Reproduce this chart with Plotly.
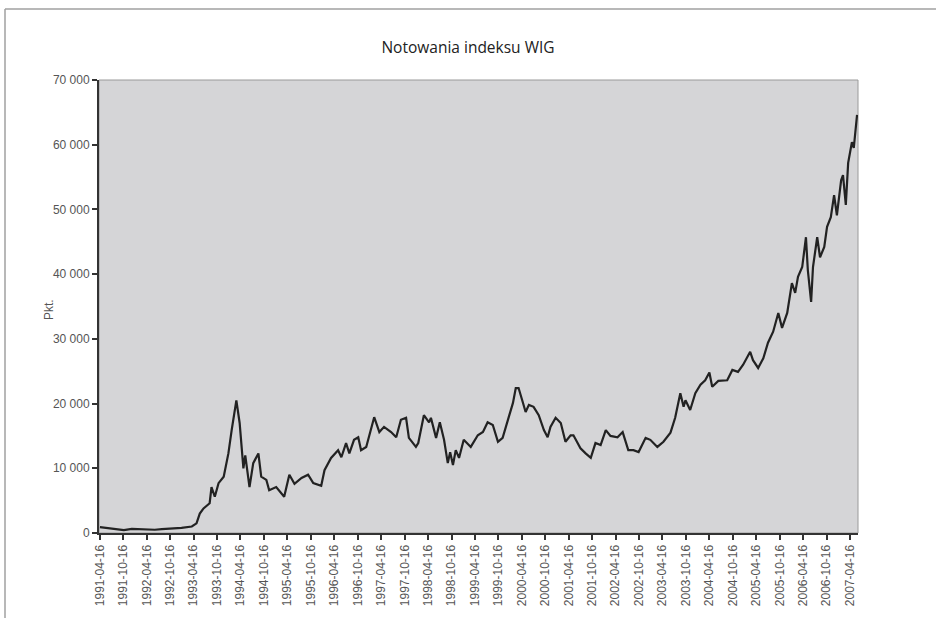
import plotly.graph_objects as go
import pandas as pd

# --- data (decimal year, index points) ---
years = [
    1991.29, 1991.44, 1991.65, 1991.80, 1991.97, 1992.29, 1992.46, 1992.61, 1992.82, 1993.03,
    1993.25, 1993.35, 1993.42, 1993.50, 1993.63, 1993.67, 1993.74, 1993.82, 1993.93, 1994.03,
    1994.10, 1994.14, 1994.20, 1994.27, 1994.31, 1994.35, 1994.39, 1994.48, 1994.56, 1994.67,
    1994.73, 1994.84, 1994.90, 1995.05, 1995.22, 1995.33, 1995.44, 1995.59, 1995.73, 1995.84,
    1996.01, 1996.08, 1996.22, 1996.37, 1996.44, 1996.54, 1996.61, 1996.71, 1996.80, 1996.86,
    1996.97, 1997.14, 1997.25, 1997.35, 1997.50, 1997.61, 1997.71, 1997.82, 1997.88, 1998.03,
    1998.08, 1998.20, 1998.31, 1998.35, 1998.46, 1998.54, 1998.63, 1998.71, 1998.76, 1998.82,
    1998.88, 1998.95, 1999.05, 1999.20, 1999.35, 1999.46, 1999.56, 1999.67, 1999.78, 1999.88,
    2000.01, 2000.10, 2000.16, 2000.22, 2000.31, 2000.37, 2000.44, 2000.54, 2000.65, 2000.76,
    2000.84, 2000.90, 2001.01, 2001.12, 2001.22, 2001.33, 2001.39, 2001.54, 2001.65, 2001.76,
    2001.86, 2001.97, 2002.08, 2002.18, 2002.33, 2002.44, 2002.56, 2002.67, 2002.78, 2002.93,
    2003.03, 2003.18, 2003.31, 2003.46, 2003.56, 2003.67, 2003.74, 2003.78, 2003.88, 2003.99,
    2004.10, 2004.20, 2004.29, 2004.35, 2004.48, 2004.67, 2004.78, 2004.90, 2005.01, 2005.16,
    2005.22, 2005.33, 2005.44, 2005.54, 2005.65, 2005.76, 2005.84, 2005.95, 2006.05, 2006.12,
    2006.18, 2006.27, 2006.35, 2006.39, 2006.46, 2006.50, 2006.59, 2006.65, 2006.74, 2006.80,
    2006.88, 2006.95, 2007.01, 2007.10, 2007.14, 2007.20, 2007.25, 2007.33, 2007.37, 2007.44,
]
wig = [
    900, 800, 650, 450, 650, 600, 500, 600, 650, 800,
    1000, 1500, 3000, 3800, 4600, 7100, 5600, 7700, 8700, 12300,
    15900, 17900, 20500, 17000, 13300, 10000, 12000, 7100, 10800, 12300,
    8700, 8200, 6600, 7100, 5600, 9000, 7600, 8500, 9000, 7700,
    7300, 9700, 11600, 12800, 11700, 13900, 12300, 14400, 14800, 12800,
    13300, 17900, 15600, 16400, 15600, 14800, 17500, 17800, 14700, 13300,
    13900, 18200, 17100, 17800, 14700, 17100, 14400, 10800, 12500, 10500,
    12800, 11600, 14400, 13300, 15100, 15600, 17100, 16700, 14100, 14700,
    17900, 20100, 22400, 22400, 20200, 18700, 19800, 19500, 18200, 15900,
    14800, 16400, 17800, 17000, 14100, 15100, 15100, 13100, 12300, 11600,
    13900, 13600, 15900, 15000, 14800, 15600, 12800, 12800, 12500, 14700,
    14400, 13300, 14100, 15500, 17800, 21600, 19500, 20500, 19000, 21600,
    22900, 23600, 24800, 22600, 23500, 23600, 25200, 24900, 26000, 28000,
    26700, 25500, 27000, 29400, 31100, 34000, 31700, 34000, 38600, 37100,
    39600, 41100, 45700, 40600, 35700, 41100, 45700, 42600, 44200, 47300,
    48800, 52200, 49100, 54500, 55300, 50700, 57200, 60400, 59500, 64600,
]
tick_labels = [
    "1991-04-16", "1991-10-16", "1992-04-16", "1992-10-16", "1993-04-16", "1993-10-16",
    "1994-04-16", "1994-10-16", "1995-04-16", "1995-10-16", "1996-04-16", "1996-10-16",
    "1997-04-16", "1997-10-16", "1998-04-16", "1998-10-16", "1999-04-16", "1999-10-16",
    "2000-04-16", "2000-10-16", "2001-04-16", "2001-10-16", "2002-04-16", "2002-10-16",
    "2003-04-16", "2003-10-16", "2004-04-16", "2004-10-16", "2005-04-16", "2005-10-16",
    "2006-04-16", "2006-10-16", "2007-04-16",
]
y_ticks = [0, 10000, 20000, 30000, 40000, 50000, 60000, 70000]

ts = pd.to_datetime(pd.Series(tick_labels))
tick_vals = list(ts.dt.year + (ts.dt.dayofyear - 1) / (365 + ts.dt.is_leap_year.astype(int)))

W, H = 936, 618
L, R, T, B = 99, 78, 80, 85
pw, ph = W - L - R, H - T - B


def px(x):
    return (x - L) / pw


def py(y):
    return (H - B - y) / ph


tick_font = dict(family="Liberation Sans Narrow, Arial Narrow, Liberation Sans, sans-serif",
                 size=12, color="#555555")

fig = go.Figure()
fig.add_trace(go.Scatter(x=years, y=wig, mode="lines",
                         line=dict(color="#222222", width=2.2), showlegend=False,
                         hoverinfo="skip"))

fig.update_layout(
    width=W, height=H,
    margin=dict(l=L, r=R, t=T, b=B),
    paper_bgcolor="white",
    plot_bgcolor="#d5d5d7",
    separators=", ",
    title=dict(text="Notowania indeksu WIG", x=px(468), xref="paper", xanchor="center",
               y=1 - 48 / H, yref="container", yanchor="middle",
               font=dict(family="Open Sans, Noto Sans, sans-serif", size=15.5, color="#222222")),
    xaxis=dict(range=[1991.27, 2007.46], tickmode="array", tickvals=tick_vals,
               ticktext=tick_labels, tickangle=-90, ticks="outside", ticklen=5,
               tickwidth=1.5, tickcolor="#333333", showgrid=False, zeroline=False,
               showline=True, linecolor="#333333", linewidth=2, tickfont=tick_font),
    yaxis=dict(range=[0, 70000], tickmode="array", tickvals=y_ticks, tickformat=",d",
               ticks="outside", ticklen=5, tickwidth=1.5, tickcolor="#333333",
               showgrid=False, zeroline=False, showline=True, linecolor="#333333",
               linewidth=2, tickfont=tick_font),
    shapes=[
        # thin grey frame of the plot area
        dict(type="rect", xref="paper", yref="paper", x0=0, y0=0, x1=1, y1=1,
             line=dict(color="#9a9a9a", width=1), layer="below"),
        # outer figure frame (top and left edges)
        dict(type="line", xref="paper", yref="paper", x0=px(5), x1=px(W), y0=py(9), y1=py(9),
             line=dict(color="#a0a0a0", width=1.5)),
        dict(type="line", xref="paper", yref="paper", x0=px(5), x1=px(5), y0=py(9), y1=py(H),
             line=dict(color="#a0a0a0", width=1.5)),
    ],
    annotations=[
        dict(text="Pkt.", xref="paper", yref="paper", x=px(40), y=py(310), showarrow=False,
             textangle=-90, font=dict(family="Liberation Sans Narrow, Arial Narrow, Liberation Sans, sans-serif",
                                      size=12, color="#555555")),
    ],
)

fig.write_html("out.html", config={"displayModeBar": False},
               post_script="document.body.style.margin='0';document.body.style.overflow='hidden';")
